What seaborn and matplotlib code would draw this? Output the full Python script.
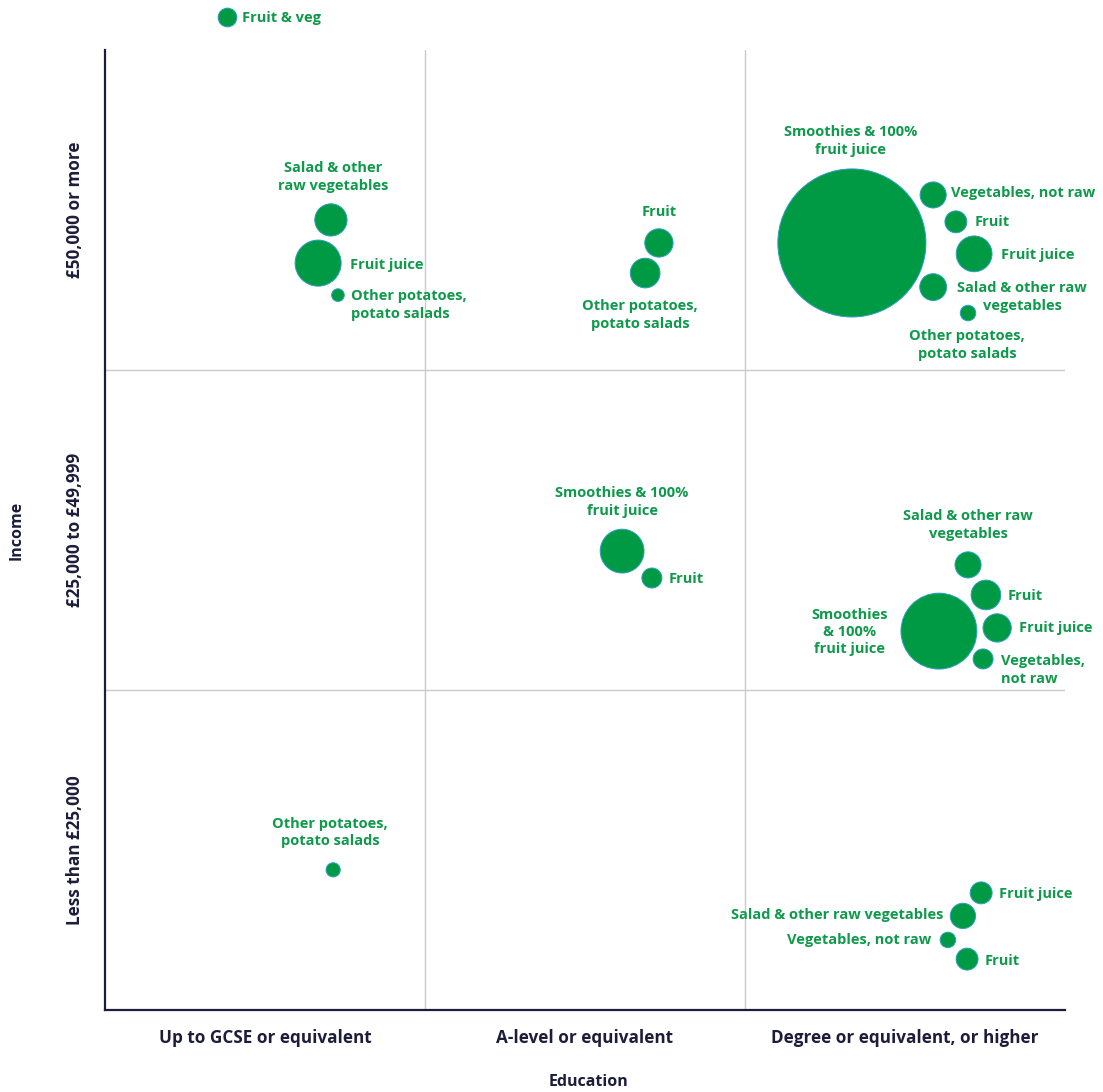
import matplotlib.pyplot as plt
from matplotlib.lines import Line2D
import seaborn as sns
import pandas as pd

# Axis categories
education = ["Up to GCSE or equivalent", "A-level or equivalent", "Degree or equivalent, or higher"]
income = ["Less than £25,000", "£25,000 to £49,999", "£50,000 or more"]

# One entry per bubble (position, 0-3 on both axes)
food = ["Salad & other\nraw vegetables", "Fruit juice", "Other potatoes,\npotato salads",
        "Fruit", "Other potatoes,\npotato salads",
        "Smoothies & 100%\nfruit juice", "Vegetables, not raw", "Fruit", "Fruit juice",
        "Salad & other raw\nvegetables", "Other potatoes,\npotato salads",
        "Smoothies & 100%\nfruit juice", "Fruit",
        "Salad & other raw\nvegetables", "Fruit", "Fruit juice", "Smoothies\n& 100%\nfruit juice",
        "Vegetables,\nnot raw",
        "Other potatoes,\npotato salads",
        "Fruit juice", "Salad & other raw vegetables", "Vegetables, not raw", "Fruit"]
x_pos = [0.706, 0.666, 0.728,
         1.731, 1.688,
         2.334, 2.588, 2.659, 2.716, 2.588, 2.697,
         1.616, 1.709,
         2.697, 2.753, 2.788, 2.606, 2.744,
         0.713,
         2.738, 2.681, 2.634, 2.694]
y_pos = [2.469, 2.334, 2.234,
         2.397, 2.303,
         2.397, 2.547, 2.463, 2.363, 2.259, 2.178,
         1.434, 1.350,
         1.391, 1.297, 1.194, 1.184, 1.097,
         0.438,
         0.366, 0.294, 0.219, 0.159]
value = [26, 53, 4,
         20, 22,
         548, 17, 12, 32, 18, 6,
         48, 10,
         17, 22, 20, 144, 10,
         5,
         12, 16, 6, 12]

# label placement relative to the bubble centre (pixels: right, up, alignment)
label_offset = [(2, 43, "center"), (32, -2, "left"), (13, -10, "left"),
                (0, 31, "center"), (-5, -42, "center"),
                (-1, 102, "center"), (18, 2, "left"), (19, 0, "left"), (27, -1, "left"),
                (89, -10, "center"), (-1, -32, "center"),
                (0, 49, "center"), (17, -1, "left"),
                (0, 40, "center"), (22, -1, "left"), (22, 0, "left"), (-89, -1, "center"),
                (18, -11, "left"),
                (-3, 37, "center"),
                (18, -1, "left"), (-20, 1, "right"), (-17, 0, "right"), (18, -2, "left")]

df = pd.DataFrame({"food": food, "x": x_pos, "y": y_pos, "value": value})
df["s"] = df["value"] * 20.74  # value ~ r^2/10 in pixels -> points^2

GREEN = "#009a44"
TEXT_GREEN = "#0e9a4a"
NAVY = "#1c1d3a"
PX = 0.72  # pixels -> points at dpi 100

sns.set_style("white")
plt.rcParams["font.family"] = ["Open Sans", "DejaVu Sans"]

fig = plt.figure(figsize=(11.03, 10.92), dpi=100)
ax = fig.add_axes([105 / 1103, 82 / 1092, 960 / 1103, 960 / 1092])

for v in [1, 2]:
    ax.axvline(v, color="#c9c9cf", lw=1, zorder=0)
    ax.axhline(v, color="#c9c9cf", lw=1, zorder=0)

ax.scatter(df["x"], df["y"], s=df["s"], color=GREEN, edgecolor="#2b9fc4",
           linewidth=0.7, zorder=3)

for i, row in df.iterrows():
    dx, dy, ha = label_offset[i]
    ax.annotate(row["food"], xy=(row["x"], row["y"]), xytext=(dx * PX, dy * PX),
                textcoords="offset points", ha=ha, va="center", multialignment=ha,
                fontsize=10.5, fontweight="bold", color=TEXT_GREEN, linespacing=1.3, zorder=4)

ax.set_xlim(0, 3)
ax.set_ylim(0, 3)
ax.set_xticks([0.5, 1.5, 2.5])
ax.set_xticklabels(education, fontsize=12.3, fontweight="bold", color=NAVY)
ax.set_yticks([0.5, 1.5, 2.5])
ax.set_yticklabels(income, fontsize=12.3, fontweight="bold", color=NAVY,
                   rotation=90, va="center")
ax.tick_params(axis="both", length=0)
ax.tick_params(axis="x", pad=14)
ax.tick_params(axis="y", pad=15)

ax.set_xlabel("Education", fontsize=11.5, fontweight="bold", color=NAVY, va="center")
ax.xaxis.set_label_coords((589 - 105) / 960, (1010 - 1082) / 960)
ax.set_ylabel("Income", fontsize=11.5, fontweight="bold", color=NAVY, va="center")
ax.yaxis.set_label_coords((17 - 105) / 960, 0.5)

for side in ["top", "right"]:
    ax.spines[side].set_visible(False)
for side in ["left", "bottom"]:
    ax.spines[side].set_color(NAVY)
    ax.spines[side].set_linewidth(1.6)

handle = Line2D([], [], marker="o", linestyle="", markersize=13.5, markerfacecolor=GREEN,
                markeredgecolor="#2b9fc4", markeredgewidth=0.7)
leg = fig.legend([handle], ["Fruit & veg"], loc="center left",
                 bbox_to_anchor=(212 / 1103, 1 - 18 / 1092), frameon=False,
                 handletextpad=0.45, borderaxespad=0, handlelength=1.2,
                 prop={"weight": "bold", "size": 10.5})
for t in leg.get_texts():
    t.set_color(TEXT_GREEN)

fig.savefig("out.png", dpi=100)
